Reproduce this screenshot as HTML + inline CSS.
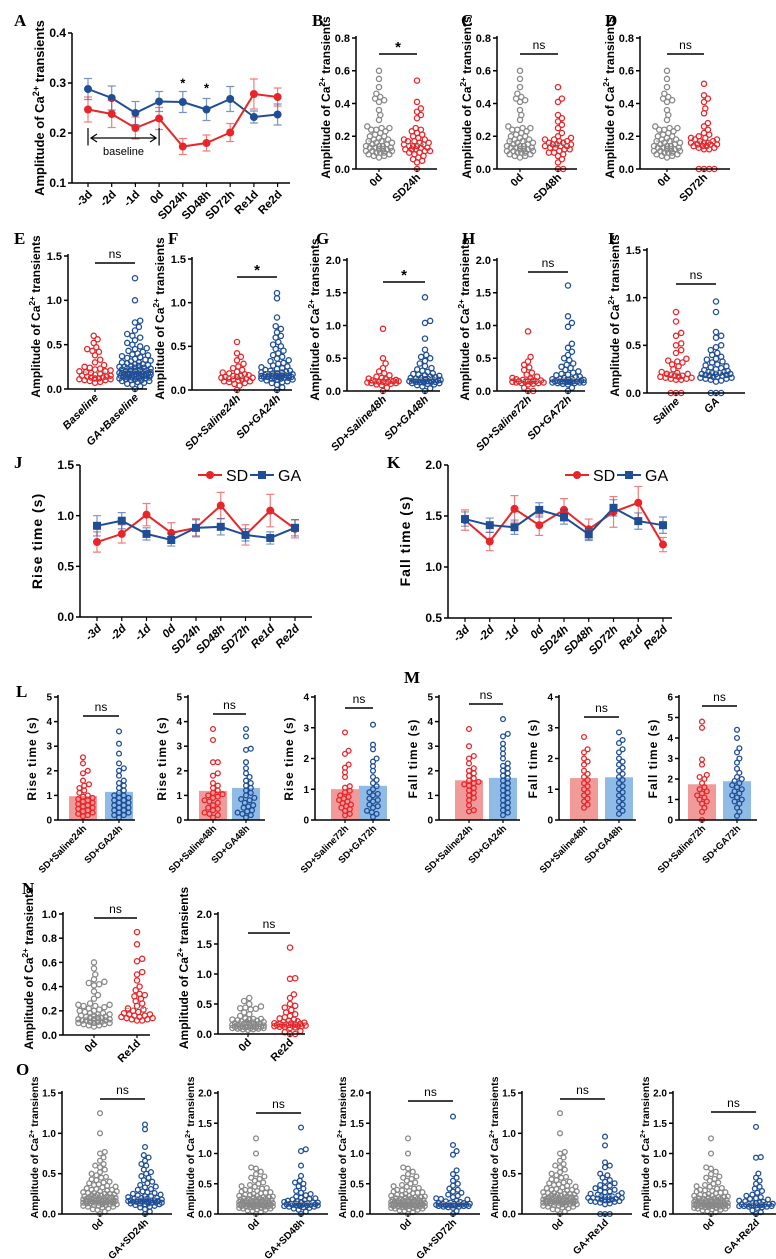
<!DOCTYPE html>
<html><head><meta charset="utf-8"><style>
html,body{margin:0;padding:0;background:#fff;}
svg{display:block;font-family:"Liberation Sans",Arial,sans-serif;}
</style></head><body>
<svg id="fig" width="776" height="1259" viewBox="0 0 776 1259" xmlns="http://www.w3.org/2000/svg"></svg>
<script>
// ===== Data =====
const timeCats = ["-3d","-2d","-1d","0d","SD24h","SD48h","SD72h","Re1d","Re2d"];
const ampSD = [0.247,0.238,0.210,0.229,0.173,0.180,0.201,0.278,0.272];
const ampSDerr = [0.025,0.027,0.022,0.022,0.016,0.016,0.018,0.030,0.018];
const ampGA = [0.288,0.270,0.240,0.263,0.262,0.247,0.268,0.232,0.237];
const ampGAerr = [0.021,0.024,0.023,0.020,0.021,0.022,0.025,0.012,0.021];
const riseSD = [0.74,0.82,1.01,0.83,0.88,1.10,0.81,1.05,0.87];
const riseSDerr = [0.10,0.09,0.11,0.10,0.09,0.13,0.10,0.16,0.09];
const riseGA = [0.90,0.95,0.82,0.76,0.88,0.89,0.81,0.78,0.88];
const riseGAerr = [0.10,0.08,0.06,0.06,0.08,0.08,0.06,0.06,0.08];
const fallSD = [1.46,1.25,1.57,1.41,1.56,1.37,1.54,1.63,1.22];
const fallSDerr = [0.10,0.09,0.13,0.10,0.11,0.10,0.15,0.16,0.07];
const fallGA = [1.47,1.41,1.39,1.56,1.49,1.32,1.58,1.45,1.41];
const fallGAerr = [0.07,0.07,0.07,0.07,0.07,0.06,0.08,0.08,0.08];

const sd0d = [0.6,0.55,0.5,0.46,0.44,0.43,0.42,0.41,0.36,0.33,0.3,0.26,0.25,0.25,0.24,0.24,0.23,0.22,0.21,0.2,0.2,0.19,0.18,0.18,0.17,0.17,0.16,0.16,0.15,0.15,0.14,0.14,0.14,0.13,0.13,0.13,0.12,0.12,0.12,0.11,0.11,0.11,0.1,0.1,0.1,0.09,0.09,0.08,0.08,0.07];
const sd24 = [0.54,0.41,0.37,0.35,0.33,0.31,0.25,0.24,0.23,0.22,0.21,0.2,0.19,0.18,0.18,0.17,0.17,0.16,0.16,0.15,0.15,0.14,0.14,0.14,0.13,0.13,0.12,0.12,0.12,0.11,0.11,0.1,0.1,0.09,0.08,0.07,0.06,0.05,0.04,0.0];
const sd48 = [0.5,0.43,0.41,0.33,0.31,0.29,0.27,0.25,0.22,0.2,0.19,0.18,0.18,0.17,0.17,0.16,0.16,0.15,0.15,0.15,0.14,0.14,0.14,0.13,0.13,0.12,0.12,0.11,0.1,0.1,0.09,0.08,0.06,0.04,0.0,0.0];
const sd72 = [0.52,0.45,0.43,0.41,0.37,0.34,0.28,0.26,0.24,0.22,0.21,0.2,0.19,0.19,0.18,0.18,0.17,0.17,0.16,0.16,0.16,0.15,0.15,0.15,0.14,0.14,0.14,0.13,0.13,0.12,0.12,0.0,0.0,0.0,0.0];
const sdBase = [0.6,0.56,0.52,0.47,0.45,0.43,0.42,0.38,0.33,0.3,0.27,0.25,0.24,0.23,0.22,0.21,0.2,0.2,0.19,0.18,0.17,0.16,0.15,0.15,0.14,0.14,0.13,0.13,0.12,0.12,0.11,0.11,0.1,0.1,0.09,0.08,0.07];
const gaBase = [1.25,1.0,0.77,0.75,0.7,0.66,0.62,0.6,0.58,0.55,0.52,0.5,0.48,0.46,0.45,0.43,0.42,0.4,0.39,0.38,0.37,0.36,0.35,0.34,0.33,0.32,0.31,0.3,0.3,0.29,0.28,0.28,0.27,0.26,0.26,0.25,0.25,0.24,0.24,0.23,0.23,0.22,0.22,0.22,0.21,0.21,0.2,0.2,0.2,0.19,0.19,0.19,0.18,0.18,0.18,0.18,0.17,0.17,0.17,0.17,0.16,0.16,0.16,0.16,0.15,0.15,0.15,0.15,0.14,0.14,0.14,0.14,0.13,0.13,0.13,0.12,0.12,0.12,0.11,0.11,0.1,0.1,0.09,0.09,0.08,0.07,0.06,0.05,0.03,0.0];
const ga24 = [1.11,1.05,0.83,0.73,0.7,0.66,0.62,0.6,0.55,0.52,0.5,0.47,0.45,0.42,0.4,0.38,0.36,0.34,0.33,0.31,0.3,0.28,0.27,0.26,0.25,0.24,0.23,0.22,0.22,0.21,0.2,0.2,0.19,0.19,0.18,0.18,0.18,0.17,0.17,0.17,0.16,0.16,0.16,0.16,0.15,0.15,0.15,0.15,0.14,0.14,0.14,0.13,0.13,0.13,0.12,0.12,0.11,0.1,0.09,0.08,0.06,0.03,0.0];
const sal24 = [0.55,0.42,0.38,0.34,0.3,0.27,0.25,0.23,0.21,0.2,0.19,0.18,0.17,0.16,0.16,0.15,0.15,0.14,0.14,0.13,0.13,0.12,0.12,0.11,0.1,0.1,0.09,0.08,0.07,0.05,0.0];
const sal48 = [0.95,0.5,0.42,0.35,0.3,0.27,0.24,0.22,0.2,0.19,0.18,0.17,0.16,0.16,0.15,0.15,0.15,0.14,0.14,0.14,0.13,0.13,0.12,0.12,0.11,0.1,0.09,0.05,0.0];
const ga48 = [1.43,1.07,1.04,0.8,0.63,0.55,0.52,0.5,0.46,0.42,0.38,0.35,0.33,0.31,0.29,0.27,0.26,0.25,0.24,0.23,0.22,0.21,0.2,0.2,0.19,0.19,0.18,0.18,0.17,0.17,0.16,0.16,0.16,0.15,0.15,0.15,0.14,0.14,0.14,0.13,0.13,0.12,0.12,0.11,0.1,0.09,0.07,0.04,0.0];
const sal72 = [0.91,0.52,0.45,0.4,0.36,0.32,0.28,0.25,0.22,0.2,0.19,0.18,0.17,0.16,0.16,0.15,0.15,0.15,0.14,0.14,0.14,0.13,0.13,0.12,0.12,0.11,0.1,0.05,0.0,0.0];
const ga72 = [1.61,1.14,1.04,0.98,0.72,0.66,0.6,0.55,0.5,0.47,0.42,0.4,0.37,0.35,0.32,0.3,0.28,0.26,0.25,0.24,0.22,0.21,0.2,0.19,0.18,0.18,0.17,0.17,0.16,0.16,0.16,0.15,0.15,0.15,0.15,0.14,0.14,0.14,0.14,0.13,0.13,0.13,0.12,0.12,0.11,0.1,0.05,0.0];
const salI = [0.85,0.75,0.63,0.6,0.52,0.5,0.45,0.42,0.36,0.34,0.33,0.32,0.3,0.28,0.25,0.22,0.21,0.2,0.2,0.19,0.18,0.18,0.17,0.17,0.16,0.16,0.15,0.15,0.14,0.14,0.0,0.0,0.0];
const gaI = [0.96,0.85,0.64,0.6,0.58,0.5,0.48,0.45,0.42,0.4,0.38,0.36,0.35,0.33,0.32,0.3,0.29,0.28,0.27,0.26,0.25,0.24,0.23,0.22,0.22,0.21,0.21,0.2,0.2,0.2,0.19,0.19,0.18,0.18,0.17,0.17,0.16,0.16,0.15,0.15,0.14,0.13,0.12,0.0,0.0,0.0];
const re1d = [0.85,0.75,0.63,0.61,0.52,0.5,0.45,0.4,0.37,0.34,0.33,0.32,0.3,0.28,0.26,0.24,0.22,0.21,0.2,0.19,0.18,0.17,0.17,0.16,0.16,0.15,0.15,0.14,0.14,0.13,0.13,0.12,0.12];
const re2d = [1.44,0.93,0.92,0.66,0.6,0.5,0.47,0.44,0.4,0.36,0.33,0.3,0.28,0.26,0.24,0.22,0.21,0.2,0.19,0.18,0.18,0.17,0.17,0.16,0.16,0.15,0.15,0.15,0.14,0.14,0.14,0.13,0.13,0.12,0.12,0.11,0.1,0.05,0.03,0.0,0.0];
const gaRe2d = [1.44,0.94,0.93,0.67,0.6,0.55,0.5,0.45,0.42,0.38,0.35,0.32,0.3,0.28,0.26,0.25,0.24,0.22,0.21,0.2,0.19,0.18,0.18,0.17,0.17,0.16,0.16,0.15,0.15,0.15,0.14,0.14,0.14,0.14,0.13,0.13,0.13,0.12,0.12,0.11,0.1,0.06,0.03,0.0];
const riseSal24 = [2.55,2.3,2.0,1.9,1.6,1.45,1.4,1.3,1.2,1.1,1.0,0.95,0.9,0.85,0.8,0.75,0.7,0.65,0.6,0.55,0.5,0.45,0.4,0.35,0.3,0.25,0.2,0.15];
const riseGA24 = [3.6,3.1,2.7,2.3,2.1,2.0,1.8,1.6,1.5,1.4,1.3,1.2,1.1,1.0,1.0,0.9,0.9,0.8,0.8,0.7,0.7,0.6,0.6,0.5,0.5,0.4,0.4,0.3,0.3,0.2,0.2,0.1];
const riseSal48 = [3.7,3.25,2.35,2.35,1.9,1.8,1.5,1.4,1.3,1.2,1.1,1.05,1.0,0.95,0.9,0.8,0.75,0.7,0.6,0.5,0.45,0.4,0.3,0.25,0.2,0.1];
const riseGA48 = [3.7,3.4,2.9,2.85,2.35,2.1,1.9,1.75,1.6,1.5,1.4,1.3,1.2,1.1,1.0,0.9,0.85,0.8,0.7,0.6,0.55,0.5,0.4,0.35,0.3,0.25,0.2,0.1];
const riseSal72 = [2.85,2.25,2.15,1.8,1.7,1.55,1.4,1.1,1.05,0.95,0.9,0.8,0.75,0.7,0.65,0.6,0.55,0.5,0.45,0.4,0.35,0.3,0.2,0.15];
const riseGA72 = [3.1,2.45,2.3,2.0,1.9,1.75,1.6,1.4,1.3,1.2,1.1,1.0,0.9,0.85,0.8,0.7,0.65,0.6,0.5,0.45,0.4,0.3,0.25,0.2,0.1];
const fallSal24 = [3.7,3.0,2.6,2.5,2.3,2.1,2.0,1.9,1.8,1.7,1.6,1.55,1.5,1.45,1.4,1.3,1.2,1.1,1.0,0.9,0.8,0.6,0.4,0.35];
const fallGA24 = [4.1,3.5,3.4,3.1,2.9,2.7,2.5,2.3,2.2,2.1,2.0,1.9,1.8,1.7,1.6,1.5,1.4,1.3,1.2,1.1,1.0,0.9,0.8,0.7,0.6,0.5,0.4,0.3,0.2];
const fallSal48 = [2.7,2.3,2.2,2.0,1.9,1.8,1.6,1.5,1.4,1.3,1.2,1.1,1.0,0.9,0.8,0.7,0.6,0.5,0.4];
const fallGA48 = [2.85,2.6,2.5,2.3,2.2,2.0,1.9,1.8,1.7,1.6,1.5,1.4,1.3,1.2,1.1,1.0,0.9,0.8,0.7,0.6,0.5,0.4,0.3,0.2];
const fallSal72 = [4.8,4.5,2.95,2.7,2.2,2.1,2.0,1.8,1.6,1.5,1.4,1.3,1.2,1.1,1.0,0.9,0.8,0.6,0.4,0.0];
const fallGA72 = [4.4,4.0,3.5,3.3,3.0,2.8,2.5,2.3,2.1,2.0,1.9,1.8,1.7,1.6,1.5,1.4,1.3,1.2,1.1,1.0,0.9,0.8,0.6,0.4,0.2];

// ===== helpers =====
const RED="#e8262a", BLUE="#1f4e96", GREY="#888888";
const NS="http://www.w3.org/2000/svg";
const svg=document.getElementById('fig');
function mk(tag,attrs,parent,text){
  const e=document.createElementNS(NS,tag);
  for(const k in attrs) e.setAttribute(k,attrs[k]);
  if(text!==undefined) e.textContent=text;
  (parent||svg).appendChild(e);
  return e;
}
function lin(d0,d1,r0,r1){return v=>r0+(v-d0)*(r1-r0)/(d1-d0);}
function panelLabel(ch,x,y){
  const t=mk('text',{x:x,y:y,'font-family':'"Liberation Serif",serif','font-weight':'bold','font-size':17});
  t.textContent=ch;
  
  
}
function yTitle(g,text,cx,cy,fs,amp){
  const t=mk('text',{transform:`translate(${cx},${cy}) rotate(-90)`,'text-anchor':'middle','font-weight':'bold','font-size':fs},g);
  
  
  if(amp){
    t.appendChild(document.createTextNode('Amplitude of Ca'));
    mk('tspan',{dy:-fs*0.4,'font-size':fs*0.7},t,'2+');
    mk('tspan',{dy:fs*0.4},t,' transients');
  } else {
    t.setAttribute('letter-spacing','1');
    t.textContent=text;
  }
}
function yAxis(g,ax,y,ticks,top,bottom,fs,dec){
  mk('line',{x1:ax,y1:top,x2:ax,y2:bottom,stroke:'#000','stroke-width':1.5},g);
  ticks.forEach(v=>{
    const yy=y(v);
    mk('line',{x1:ax-4,y1:yy,x2:ax,y2:yy,stroke:'#000','stroke-width':1.5},g);
    const t=mk('text',{x:ax-6,y:yy+fs*0.35,'text-anchor':'end','font-weight':'bold','font-size':fs},g,v.toFixed(dec));
    
    
  });
}
function xLabel(g,text,x,y,fs,italic){
  const t=mk('text',{transform:`translate(${x},${y}) rotate(-45)`,'text-anchor':'end','font-weight':'bold','font-size':fs,'font-style':italic?'italic':'normal'},g,text);
  
  
}
function swarm(vals,cx,y,r,maxW){
  const pts=[]; const sorted=vals.slice().sort((a,b)=>a-b);
  const d=2*r*0.95;
  const step=r*0.5;
  const nSteps=Math.floor(maxW/step);
  sorted.forEach(v=>{
    const py=y(v);
    let best=cx, bestD=-1, found=false;
    for(let k=0;k<=2*nSteps;k++){
      const off=(k%2?1:-1)*Math.ceil(k/2)*step;
      const px=cx+off;
      let md=Infinity;
      for(const p of pts){const dd=Math.hypot(p[0]-px,p[1]-py); if(dd<md) md=dd;}
      if(md>=d){best=px;found=true;break;}
      if(md>bestD+0.3){bestD=md;best=px;}
    }
    pts.push([best,py]);
  });
  return pts;
}
function dotPanel(o){
  const g=mk('g',{});
  
  
  const y=lin(0,o.max,o.y0,o.top);
  const ticks=[]; for(let v=0;v<=o.max+1e-9;v+=o.step) ticks.push(+v.toFixed(2));
  if(o.bars){
    o.groups.forEach((grp,i)=>{
      const m=grp.vals.reduce((a,b)=>a+b,0)/grp.vals.length;
      const b=mk('rect',{x:o.gx[i]-14,y:y(m),width:28,height:o.y0-y(m),fill:grp.fill},g);
      
      
    });
  }
  o.groups.forEach((grp,i)=>{
    const pts=swarm(grp.vals,o.gx[i],y,o.r,o.maxW);
    pts.forEach(p=>{
      const c=mk('circle',{cx:p[0].toFixed(1),cy:p[1].toFixed(1),r:o.r,fill:'none',stroke:grp.color,'stroke-width':1.3},g);
      
      
    });
    if(!o.bars){
      const s=grp.vals.slice().sort((a,b)=>a-b); const med=s[Math.floor(s.length/2)];
      const ml=mk('line',{x1:o.gx[i]-11,x2:o.gx[i]+11,y1:y(med),y2:y(med),stroke:'#999','stroke-width':1,'stroke-dasharray':'3,2'},g);
      
      
    }
  });
  yAxis(g,o.ax,y,ticks,o.top-2,o.y0,o.tfs,o.dec);
  mk('line',{x1:o.ax,y1:o.y0,x2:o.end,y2:o.y0,stroke:'#000','stroke-width':1.5},g);
  o.groups.forEach((grp,i)=>{
    mk('line',{x1:o.gx[i],y1:o.y0,x2:o.gx[i],y2:o.y0+3,stroke:'#000','stroke-width':1.2},g);
    xLabel(g,grp.label,o.gx[i]+4,o.y0+9,o.lfs,o.italic);
  });
  const sb=mk('line',{x1:o.gx[0],x2:o.gx[1],y1:o.sigY,y2:o.sigY,stroke:'#000','stroke-width':1.5},g);
  
  
  const st=mk('text',{x:(o.gx[0]+o.gx[1])/2,y:o.sig==='*'?o.sigY-2:o.sigY-5,'text-anchor':'middle','font-size':o.sig==='*'?15:12,'font-weight':o.sig==='*'?'bold':'normal'},g,o.sig);
  
  
  if(o.amp) yTitle(g,'',o.ax-o.tOff,(o.top+o.y0)/2-6,o.yfs,true);
  else yTitle(g,o.ytitle,o.ax-o.tOff,(o.top+o.y0)/2,o.yfs,false);
}
function linePanel(o){
  const g=mk('g',{});
  
  
  const y=lin(o.min,o.max,o.y0,o.top);
  const x=i=>o.x0+i*o.dx;
  const ticks=[]; for(let v=o.min;v<=o.max+1e-9;v+=o.step) ticks.push(+v.toFixed(2));
  yAxis(g,o.ax,y,ticks,o.top,o.y0,12,1);
  mk('line',{x1:o.ax,y1:o.y0,x2:o.end,y2:o.y0,stroke:'#000','stroke-width':1.5},g);
  timeCats.forEach((c,i)=>{
    mk('line',{x1:x(i),y1:o.y0,x2:x(i),y2:o.y0+4,stroke:'#000','stroke-width':1.2},g);
    xLabel(g,c,x(i)+5,o.y0+12,11.5,o.italic);
  });
  o.series.forEach(s=>{
    const col=s.color;
    s.vals.forEach((v,i)=>{
      const e=s.err[i];
      const eb=mk('path',{d:`M${x(i)},${y(v-e)}V${y(v+e)}M${x(i)-4},${y(v-e)}h8M${x(i)-4},${y(v+e)}h8`,stroke:col,'stroke-opacity':0.6,'stroke-width':1.2,fill:'none'},g);
      
      
    });
    const pl=mk('polyline',{points:s.vals.map((v,i)=>x(i)+','+y(v)).join(' '),fill:'none',stroke:col,'stroke-width':2},g);
    
    
    s.vals.forEach((v,i)=>{
      let m;
      if(s.square) m=mk('rect',{x:x(i)-4,y:y(v)-4,width:8,height:8,fill:col},g);
      else m=mk('circle',{cx:x(i),cy:y(v),r:4,fill:col},g);
      
      
    });
  });
  return {g,x,y};
}

// ===== Panel A =====
panelLabel('A',14,26);
{
  const r=linePanel({name:'chart-a',min:0.1,max:0.4,step:0.1,top:33,y0:183,ax:72,end:290,x0:88,dx:23.7,
    series:[{key:'ga',color:BLUE,vals:ampGA,err:ampGAerr},{key:'sd',color:RED,vals:ampSD,err:ampSDerr}]});
  yTitle(r.g,'',44,108,13,true);
  const y=r.y,x=r.x;
  const bl=mk('g',{},r.g);  
  mk('line',{x1:x(0),x2:x(0),y1:y(0.21),y2:y(0.175),stroke:'#000','stroke-width':1.2},bl);
  mk('line',{x1:x(3),x2:x(3),y1:y(0.21),y2:y(0.175),stroke:'#000','stroke-width':1.2},bl);
  mk('path',{d:`M${x(0)+3},${y(0.19)}H${x(3)-3}M${x(0)+9},${y(0.19)-4}L${x(0)+3},${y(0.19)}L${x(0)+9},${y(0.19)+4}M${x(3)-9},${y(0.19)-4}L${x(3)-3},${y(0.19)}L${x(3)-9},${y(0.19)+4}`,stroke:'#000','stroke-width':1.2,fill:'none'},bl);
  mk('text',{x:(x(0)+x(3))/2,y:y(0.19)+17,'text-anchor':'middle','font-size':11},bl,'baseline');
  [4,5].forEach((i,k)=>{const s=mk('text',{x:x(i),y:k?y(0.285)+2:y(0.295)+2,'text-anchor':'middle','font-size':13,'font-weight':'bold'},r.g,'*');
    });
}

// ===== B-D =====
const ampCommon={r:2.6,maxW:14,tfs:11,lfs:11,dec:1,amp:true,yfs:12,tOff:26};
panelLabel('B',312,26);
dotPanel(Object.assign({},ampCommon,{name:'chart-b',ax:356,end:437,top:38,y0:169,max:0.8,step:0.2,gx:[379,417],sig:'*',sigY:54,
  groups:[{vals:sd0d,color:GREY,label:'0d'},{vals:sd24,color:RED,label:'SD24h'}]}));
panelLabel('C',461,26);
dotPanel(Object.assign({},ampCommon,{name:'chart-c',ax:497,end:577,top:38,y0:169,max:0.8,step:0.2,gx:[520,558],sig:'ns',sigY:54,
  groups:[{vals:sd0d,color:GREY,label:'0d'},{vals:sd48,color:RED,label:'SD48h'}]}));
panelLabel('D',605,26);
dotPanel(Object.assign({},ampCommon,{name:'chart-d',ax:640,end:730,top:38,y0:169,max:0.8,step:0.2,gx:[667,704],sig:'ns',sigY:54,
  groups:[{vals:sd0d,color:GREY,label:'0d'},{vals:sd72,color:RED,label:'SD72h'}]}));

// ===== E-I =====
const rowE={r:2.6,maxW:16,tfs:11,lfs:11,dec:1,amp:true,yfs:12,tOff:28,italic:true};
panelLabel('E',14,244);
dotPanel(Object.assign({},rowE,{name:'chart-e',ax:68,end:147,top:256,y0:389,max:1.5,step:0.5,gx:[95,135],sig:'ns',sigY:263,
  groups:[{vals:sdBase,color:RED,label:'Baseline'},{vals:gaBase,color:BLUE,label:'GA+Baseline'}]}));
panelLabel('F',168,244);
dotPanel(Object.assign({},rowE,{name:'chart-f',ax:192,end:292,top:259,y0:390,max:1.5,step:0.5,gx:[237,277],sig:'*',sigY:277,
  groups:[{vals:sal24,color:RED,label:'SD+Saline24h'},{vals:ga24,color:BLUE,label:'SD+GA24h'}]}));
panelLabel('G',316,244);
dotPanel(Object.assign({},rowE,{name:'chart-g',ax:347,end:440,top:260,y0:391,max:2.0,step:0.5,gx:[383,425],sig:'*',sigY:282,
  groups:[{vals:sal48,color:RED,label:'SD+Saline48h'},{vals:ga48,color:BLUE,label:'SD+GA48h'}]}));
panelLabel('H',462,244);
dotPanel(Object.assign({},rowE,{name:'chart-h',ax:497,end:585,top:260,y0:391,max:2.0,step:0.5,gx:[528,568],sig:'ns',sigY:272,
  groups:[{vals:sal72,color:RED,label:'SD+Saline72h'},{vals:ga72,color:BLUE,label:'SD+GA72h'}]}));
panelLabel('I',608,244);
dotPanel(Object.assign({},rowE,{name:'chart-i',ax:647,end:745,top:250,y0:393,max:1.5,step:0.5,gx:[676,716],sig:'ns',sigY:284,
  groups:[{vals:salI,color:RED,label:'Saline'},{vals:gaI,color:BLUE,label:'GA'}]}));

// ===== J, K =====
function legend(g,x,y){
  const l=mk('g',{},g);  
  mk('line',{x1:x-12,x2:x+12,y1:y,y2:y,stroke:RED,'stroke-width':2},l);
  mk('circle',{cx:x,cy:y,r:4,fill:RED},l);
  mk('text',{x:x+16,y:y+6,'font-size':16},l,'SD');
  mk('line',{x1:x+40,x2:x+64,y1:y,y2:y,stroke:BLUE,'stroke-width':2},l);
  mk('rect',{x:x+48,y:y-4,width:8,height:8,fill:BLUE},l);
  mk('text',{x:x+68,y:y+6,'font-size':16},l,'GA');
}
panelLabel('J',14,468);
{
  const r=linePanel({name:'chart-j',min:0,max:1.5,step:0.5,top:465,y0:617,ax:80,end:312,x0:97,dx:24.75,italic:true,
    series:[{key:'sd',color:RED,vals:riseSD,err:riseSDerr},{key:'ga',color:BLUE,vals:riseGA,err:riseGAerr,square:true}]});
  yTitle(r.g,'Rise time (s)',42,541,14,false);
  legend(r.g,210,475);
}
panelLabel('K',387,468);
{
  const r=linePanel({name:'chart-k',min:0.5,max:2.0,step:0.5,top:465,y0:618,ax:448,end:672,x0:465,dx:24.75,italic:true,
    series:[{key:'sd',color:RED,vals:fallSD,err:fallSDerr},{key:'ga',color:BLUE,vals:fallGA,err:fallGAerr,square:true}]});
  yTitle(r.g,'Fall time (s)',410,541,14,false);
  legend(r.g,577,475);
}

// ===== L, M =====
const barC={r:2.4,maxW:13,tfs:10,lfs:9.5,dec:0,amp:false,yfs:12,tOff:22,bars:true,top:697,y0:820,step:1};
const RF="#f09a9a", BF="#8fbbe6";
panelLabel('L',16,697);
dotPanel(Object.assign({},barC,{name:'chart-l1',ytitle:'Rise time (s)',ax:58,end:135,max:5,gx:[83,119],sig:'ns',sigY:716,
  groups:[{vals:riseSal24,color:RED,fill:RF,label:'SD+Saline24h'},{vals:riseGA24,color:BLUE,fill:BF,label:'SD+GA24h'}]}));
dotPanel(Object.assign({},barC,{name:'chart-l2',ytitle:'Rise time (s)',ax:188,end:265,max:5,gx:[213,246],sig:'ns',sigY:714,
  groups:[{vals:riseSal48,color:RED,fill:RF,label:'SD+Saline48h'},{vals:riseGA48,color:BLUE,fill:BF,label:'SD+GA48h'}]}));
dotPanel(Object.assign({},barC,{name:'chart-l3',ytitle:'Rise time (s)',ax:315,end:390,max:4,gx:[345,373],sig:'ns',sigY:708,
  groups:[{vals:riseSal72,color:RED,fill:RF,label:'SD+Saline72h'},{vals:riseGA72,color:BLUE,fill:BF,label:'SD+GA72h'}]}));
panelLabel('M',404,683);
dotPanel(Object.assign({},barC,{name:'chart-m1',ytitle:'Fall time (s)',ax:439,end:520,max:5,gx:[469,503],sig:'ns',sigY:704,
  groups:[{vals:fallSal24,color:RED,fill:RF,label:'SD+Saline24h'},{vals:fallGA24,color:BLUE,fill:BF,label:'SD+GA24h'}]}));
dotPanel(Object.assign({},barC,{name:'chart-m2',ytitle:'Fall time (s)',ax:559,end:636,max:4,gx:[584,619],sig:'ns',sigY:717,
  groups:[{vals:fallSal48,color:RED,fill:RF,label:'SD+Saline48h'},{vals:fallGA48,color:BLUE,fill:BF,label:'SD+GA48h'}]}));
dotPanel(Object.assign({},barC,{name:'chart-m3',ytitle:'Fall time (s)',ax:679,end:757,max:6,gx:[702,737],sig:'ns',sigY:706,
  groups:[{vals:fallSal72,color:RED,fill:RF,label:'SD+Saline72h'},{vals:fallGA72,color:BLUE,fill:BF,label:'SD+GA72h'}]}));

// ===== N =====
panelLabel('N',22,894);
const nC={r:2.6,maxW:16,tfs:11,lfs:11,dec:1,amp:true,yfs:12,tOff:30,top:914};
dotPanel(Object.assign({},nC,{name:'chart-n1',ax:63,end:150,y0:1035,max:1.0,step:0.2,gx:[94,137],sig:'ns',sigY:918,
  groups:[{vals:sd0d,color:GREY,label:'0d'},{vals:re1d,color:RED,label:'Re1d'}]}));
dotPanel(Object.assign({},nC,{name:'chart-n2',ax:218,end:305,y0:1034,max:2.0,step:0.5,gx:[248,290],sig:'ns',sigY:933,
  groups:[{vals:sd0d,color:GREY,label:'0d'},{vals:re2d,color:RED,label:'Re2d'}]}));

// ===== O =====
panelLabel('O',16,1075);
const oC={r:2.4,maxW:17,tfs:10,lfs:10,dec:1,amp:true,yfs:10.5,tOff:24,top:1093,y0:1214,step:0.5};
const oAxes=[62,218,370,522,673];
const oMax=[1.5,2.0,2.0,1.5,2.0];
const oSig=[1099,1113,1101,1099,1112];
const oBlue=[ga24,ga48,ga72,gaI,gaRe2d];
const oLab=['GA+SD24h','GA+SD48h','GA+SD72h','GA+Re1d','GA+Re2d'];
oAxes.forEach((ax,i)=>{
  dotPanel(Object.assign({},oC,{name:'chart-o'+(i+1),ax:ax,end:ax+110,max:oMax[i],gx:[ax+38,ax+83],sig:'ns',sigY:oSig[i],
    groups:[{vals:gaBase,color:GREY,label:'0d'},{vals:oBlue[i],color:BLUE,label:oLab[i]}]}));
});
</script>
</body></html>
